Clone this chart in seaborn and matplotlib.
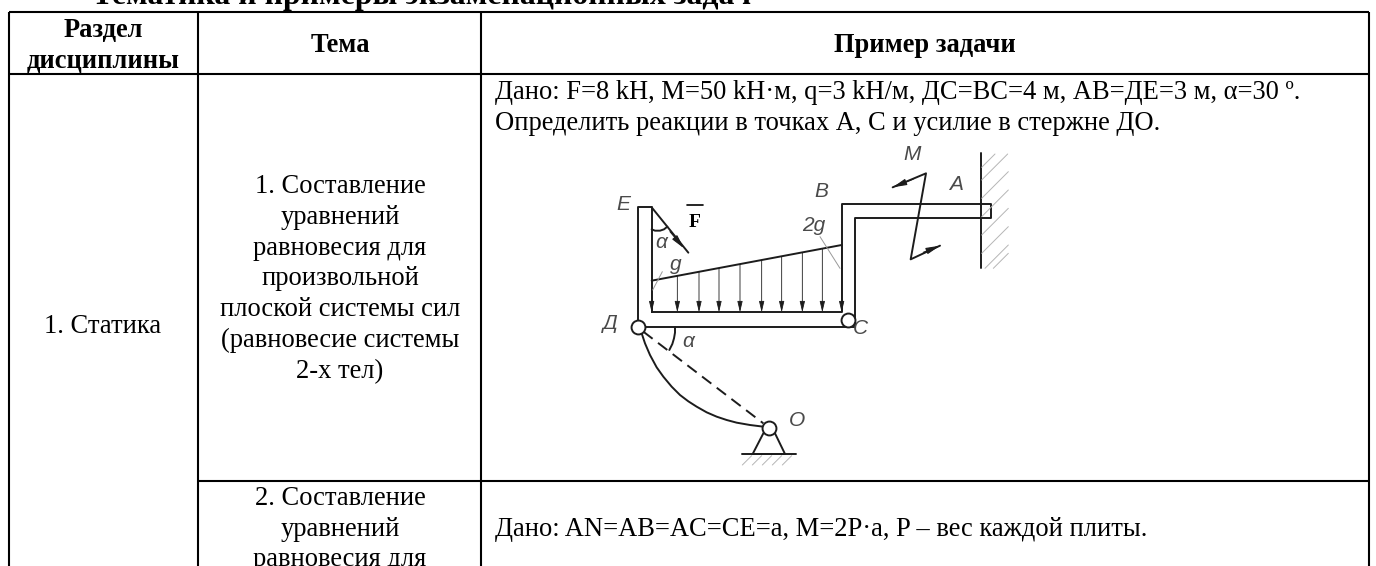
import pandas as pd
import matplotlib
matplotlib.use('Agg')
import matplotlib.pyplot as plt
import seaborn as sns

# table grid (image pixels)
col_x = [9, 198, 481, 1368.5]
row_y = [12, 73.5, 481]

title = 'Тематика и примеры экзаменационных задач'
headers = [['Раздел', 'дисциплины'], ['Тема'], ['Пример задачи']]
header_x = [103, 340, 925]
topic1 = ['1. Составление', 'уравнений', 'равновесия для', 'произвольной',
          'плоской системы сил', '(равновесие системы', '2-х тел)']
topic2 = ['2. Составление', 'уравнений', 'равновесия для']
section = '1. Статика'
task1 = ['Дано: F=8 kН, М=50 kН·м, q=3 kН/м, ДС=ВС=4 м, АВ=ДЕ=3 м, α=30 º.',
         'Определить реакции в точках А, С и усилие в стержне ДО.']
task2 = 'Дано: AN=AB=AC=CE=a, M=2P·a, P – вес каждой плиты.'

# drawing, in units of the 3x crop
frame_x = [215, 215, 175, 175, 825, 825, 1232, 1232, 785, 785, 215]
frame_y = [547, 232, 232, 590, 590, 263, 263, 222, 222, 547, 547]
wall_x = [1202, 1202]
wall_y = [70, 415]
load_x = [215, 785]
load_y = [452, 345]
arrow_x = [215, 292, 357, 417, 480, 545, 605, 667, 727, 785]
arrow_top = [452, 438, 426, 415, 403, 391, 380, 368, 357, 345]
zig_x = [938, 1038, 992, 1080]
zig_y = [172, 130, 388, 347]
curve_x = [185, 195, 210, 230, 250, 275, 300, 325, 350, 380, 410, 440, 470, 510, 550]
curve_y = [610, 640, 675, 712, 740, 770, 795, 814, 830, 847, 860, 870, 878, 885, 890]
dash_x = [190, 550]
dash_y = [605, 880]
arc1_x = [285, 285, 282, 277, 268]
arc1_y = [592, 608, 625, 642, 660]
arc2_x = [215, 225, 240, 252, 262]
arc2_y = [298, 302, 302, 298, 290]
force_x = [215, 325]
force_y = [232, 368]
support_x = [550, 518, 615, 585]
support_y = [910, 972, 972, 910]
base_x = [487, 647]
base_y = [972, 972]
leaders = [([218, 247], [480, 425]), ([720, 780], [320, 415])]
hinge_x = [175, 805, 567]
hinge_y = [590, 570, 895]
wall_hatch = [([1205, 1245], [112, 72]), ([1205, 1283], [150, 72]), ([1205, 1285], [205, 125]),
              ([1205, 1285], [260, 180]), ([1205, 1285], [315, 235]), ([1205, 1285], [370, 290]),
              ([1215, 1285], [415, 345]), ([1240, 1285], [415, 370])]
base_hatch_x = [515, 545, 575, 605, 635]
labels = [('E', 130, 222), ('B', 723, 185), ('A', 1128, 163), ('M', 995, 75), ('2g', 700, 287),
          ('g', 287, 402), ('α', 243, 337), ('Д', 90, 580), ('C', 840, 597), ('α', 325, 635), ('O', 650, 870)]

sns.set_theme(style='white')
plt.rcParams['font.family'] = ['Liberation Serif', 'DejaVu Sans']
TS = 19.1

fig = plt.figure(figsize=(13.76, 5.66), dpi=100)
ax = fig.add_axes([0, 0, 1, 1])
ax.set_xlim(0, 1376)
ax.set_ylim(566, 0)
ax.axis('off')

ax.vlines(col_x, row_y[0], 566, color='black', lw=1.5)
ax.hlines(row_y[0], col_x[0], col_x[3], color='black', lw=1.5)
ax.hlines(row_y[1], col_x[0], col_x[3], color='black', lw=1.5)
ax.hlines(row_y[2], col_x[1], col_x[3], color='black', lw=1.5)

ax.text(92, 4, title, fontsize=22.9, fontweight='bold', color='black')
ax.text(header_x[0], 37, headers[0][0], ha='center', fontsize=TS, fontweight='bold', color='black')
ax.text(header_x[0], 68, headers[0][1], ha='center', fontsize=TS, fontweight='bold', color='black')
ax.text(header_x[1], 52, headers[1][0], ha='center', fontsize=TS, fontweight='bold', color='black')
ax.text(header_x[2], 52, headers[2][0], ha='center', fontsize=TS, fontweight='bold', color='black')
for i, s in enumerate(topic1):
    ax.text(340, 193 + i * 30.8, s, ha='center', fontsize=TS, color='black')
for i, s in enumerate(topic2):
    ax.text(340, 505 + i * 30.5, s, ha='center', fontsize=TS, color='black', clip_on=True)
ax.text(103, 333, section, ha='center', fontsize=TS, color='black')
ax.text(495, 99, task1[0], fontsize=TS, color='black')
ax.text(495, 130, task1[1], fontsize=TS, color='black')
ax.text(495, 536, task2, fontsize=TS, color='black')

# diagram
dx = fig.add_axes([580 / 1376, 1 - 470 / 566, 460 / 1376, 340 / 566])
dx.patch.set_alpha(0)
ink = '#1c1c1c'

parts = [(frame_x, frame_y), (wall_x, wall_y), (load_x, load_y), (zig_x, zig_y),
         (curve_x, curve_y), (arc1_x, arc1_y), (arc2_x, arc2_y), (force_x, force_y),
         (support_x, support_y), (base_x, base_y)]
rows = []
for n, (xs, ys) in enumerate(parts):
    rows += [{'x': a, 'y': b, 'part': n} for a, b in zip(xs, ys)]
sns.lineplot(data=pd.DataFrame(rows), x='x', y='y', units='part', estimator=None, sort=False,
             color=ink, lw=1.4, ax=dx, legend=False)
dx.plot(dash_x, dash_y, color=ink, lw=1.4, ls=(0, (6, 3.5)))
for xs, ys in leaders:
    dx.plot(xs, ys, color='#999999', lw=0.7)
for x, top in zip(arrow_x, arrow_top):
    dx.annotate('', xy=(x, 547), xytext=(x, top),
                arrowprops=dict(arrowstyle='-|>,head_width=0.13,head_length=0.55', color=ink, lw=0.6, shrinkA=0, shrinkB=0))
for a, b in [((1000, 147), (938, 172)), ((1030, 367), (1080, 347)), ((270, 305), (312, 355))]:
    dx.annotate('', xy=b, xytext=a,
                arrowprops=dict(arrowstyle='-|>,head_width=0.16,head_length=0.7', color=ink, lw=0.8, shrinkA=0, shrinkB=0))
for xs, ys in wall_hatch:
    dx.plot(xs, ys, color='#b5b5b5', lw=0.7)
for x in base_hatch_x:
    dx.plot([x - 28, x], [1005, 977], color='#b5b5b5', lw=0.7)
sns.scatterplot(x=hinge_x, y=hinge_y, s=100, color='white', edgecolor=ink, linewidth=1.4, ax=dx, zorder=5, legend=False)

for s, x, y in labels:
    dx.text(x, y, s, ha='center', va='center', fontsize=15, style='italic', color='#4a4a4a', family='Liberation Sans')
dx.text(343, 277, 'F', ha='center', va='center', fontsize=14, fontweight='bold', color='black')
dx.plot([322, 368], [225, 225], color='black', lw=1.2)

dx.set_xlim(0, 1380)
dx.set_ylim(1020, 0)
dx.axis('off')

fig.savefig('out.png', dpi=100)
